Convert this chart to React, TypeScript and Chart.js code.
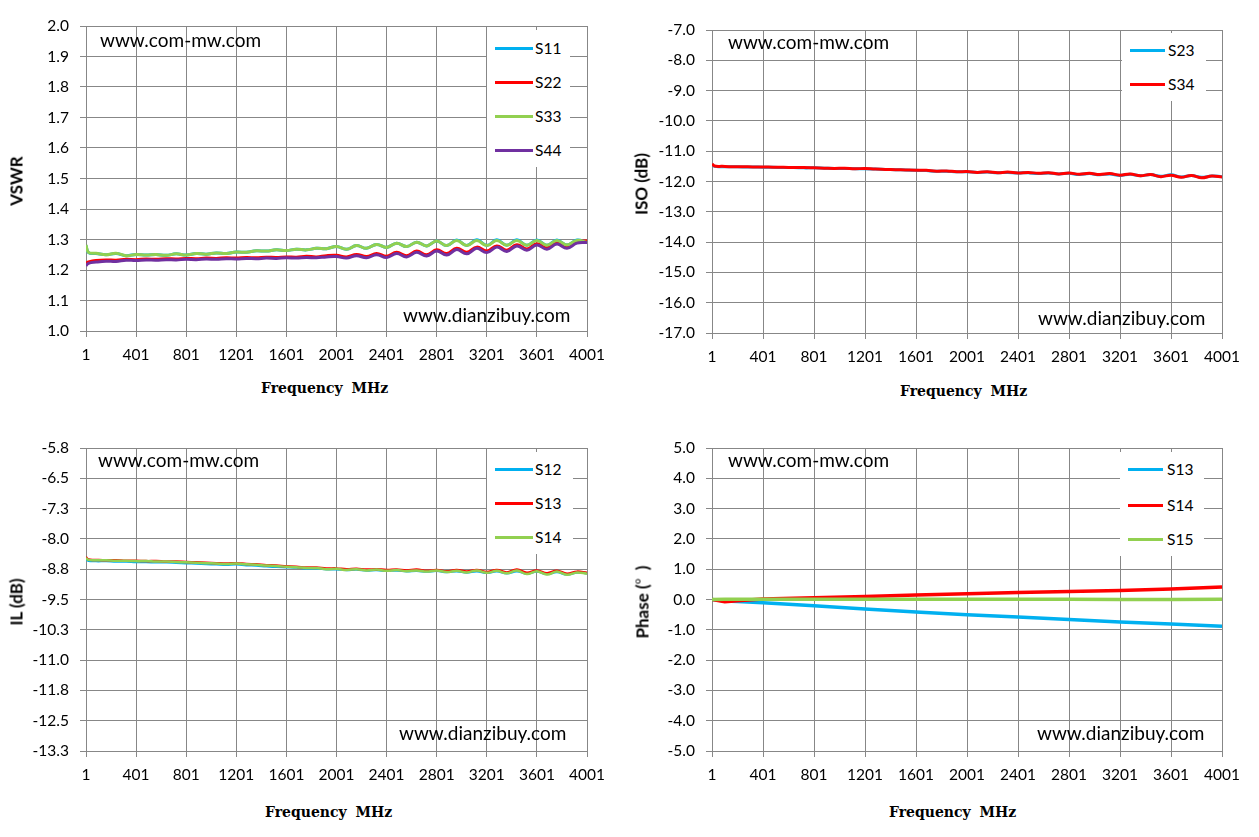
import { useEffect, useRef } from "react"
import { Chart, registerables } from "chart.js"

Chart.register(...registerables)

// x axis (MHz) shared by all four panels
const freqTicks = [1, 401, 801, 1201, 1601, 2001, 2401, 2801, 3201, 3601, 4001]

const freqMHz = [
  1, 21, 81, 161, 241, 321, 401, 481, 561, 641, 721, 801, 881, 961, 1041, 1121, 1201, 1281, 1361, 1441, 1521, 1601,
  1681, 1761, 1841, 1921, 2001, 2081, 2161, 2241, 2321, 2401, 2481, 2561, 2641, 2721, 2801, 2881, 2961, 3041, 3121,
  3201, 3281, 3361, 3441, 3521, 3601, 3681, 3761, 3841, 3921, 4001,
]

// VSWR
const vswrTicks = [1.0, 1.1, 1.2, 1.3, 1.4, 1.5, 1.6, 1.7, 1.8, 1.9, 2.0]
const s11 = [
  1.28, 1.257, 1.254, 1.25, 1.254, 1.247, 1.251, 1.249, 1.251, 1.248, 1.253, 1.249, 1.254, 1.252, 1.256, 1.254, 1.259,
  1.258, 1.263, 1.262, 1.266, 1.264, 1.268, 1.266, 1.271, 1.27, 1.277, 1.268, 1.28, 1.271, 1.284, 1.274, 1.288, 1.277,
  1.291, 1.279, 1.295, 1.28, 1.298, 1.28, 1.299, 1.28, 1.299, 1.281, 1.299, 1.281, 1.298, 1.281, 1.298, 1.282, 1.298,
  1.291,
]
const s22 = [
  1.222, 1.226, 1.231, 1.233, 1.232, 1.235, 1.234, 1.236, 1.235, 1.237, 1.236, 1.238, 1.237, 1.239, 1.238, 1.24, 1.239,
  1.241, 1.24, 1.242, 1.241, 1.243, 1.242, 1.245, 1.243, 1.247, 1.248, 1.243, 1.251, 1.244, 1.254, 1.245, 1.258, 1.247,
  1.262, 1.25, 1.266, 1.254, 1.271, 1.258, 1.275, 1.262, 1.279, 1.265, 1.283, 1.269, 1.286, 1.272, 1.289, 1.275, 1.292,
  1.296,
]
const s33 = [
  1.282, 1.258, 1.255, 1.25, 1.255, 1.247, 1.251, 1.249, 1.251, 1.248, 1.253, 1.249, 1.254, 1.252, 1.256, 1.254, 1.259,
  1.258, 1.263, 1.262, 1.266, 1.264, 1.268, 1.266, 1.271, 1.27, 1.277, 1.268, 1.28, 1.271, 1.284, 1.274, 1.288, 1.277,
  1.291, 1.279, 1.295, 1.28, 1.297, 1.28, 1.297, 1.28, 1.297, 1.281, 1.297, 1.281, 1.297, 1.281, 1.297, 1.282, 1.297,
  1.29,
]
const s44 = [
  1.214, 1.222, 1.226, 1.229, 1.228, 1.232, 1.231, 1.233, 1.232, 1.234, 1.233, 1.235, 1.234, 1.236, 1.235, 1.237, 1.236,
  1.238, 1.237, 1.239, 1.238, 1.24, 1.239, 1.241, 1.24, 1.243, 1.244, 1.239, 1.247, 1.24, 1.25, 1.241, 1.254, 1.243,
  1.258, 1.246, 1.262, 1.249, 1.267, 1.253, 1.271, 1.257, 1.275, 1.261, 1.279, 1.265, 1.282, 1.268, 1.285, 1.271, 1.288,
  1.29,
]

// Isolation (dB)
const isoTicks = [-17, -16, -15, -14, -13, -12, -11, -10, -9, -8, -7]
const s23 = [
  -11.44, -11.5, -11.51, -11.51, -11.52, -11.52, -11.53, -11.53, -11.54, -11.54, -11.55, -11.55, -11.56, -11.57, -11.57,
  -11.58, -11.58, -11.59, -11.6, -11.61, -11.62, -11.63, -11.64, -11.66, -11.66, -11.68, -11.68, -11.7, -11.69, -11.71,
  -11.7, -11.72, -11.71, -11.74, -11.72, -11.75, -11.73, -11.77, -11.74, -11.78, -11.75, -11.8, -11.76, -11.81, -11.77,
  -11.83, -11.78, -11.85, -11.8, -11.86, -11.82, -11.84,
]
const s34 = [
  -11.42, -11.49, -11.5, -11.51, -11.51, -11.52, -11.52, -11.53, -11.53, -11.54, -11.54, -11.55, -11.56, -11.57, -11.56,
  -11.58, -11.57, -11.59, -11.6, -11.61, -11.62, -11.63, -11.63, -11.66, -11.65, -11.68, -11.67, -11.7, -11.68, -11.71,
  -11.69, -11.72, -11.7, -11.73, -11.71, -11.75, -11.72, -11.76, -11.73, -11.77, -11.74, -11.79, -11.75, -11.81, -11.77,
  -11.84, -11.79, -11.86, -11.8, -11.88, -11.82, -11.85,
]

// Insertion loss (dB)
const ilTicks = [-13.25, -12.5, -11.75, -11, -10.25, -9.5, -8.75, -8, -7.25, -6.5, -5.75]
const s12 = [
  -8.5, -8.54, -8.55, -8.55, -8.56, -8.56, -8.57, -8.57, -8.58, -8.58, -8.59, -8.6, -8.61, -8.62, -8.63, -8.64, -8.63,
  -8.65, -8.66, -8.68, -8.69, -8.7, -8.71, -8.73, -8.73, -8.75, -8.75, -8.77, -8.76, -8.78, -8.77, -8.79, -8.78, -8.8,
  -8.79, -8.81, -8.79, -8.82, -8.8, -8.83, -8.8, -8.84, -8.8, -8.85, -8.8, -8.86, -8.81, -8.87, -8.82, -8.88, -8.83,
  -8.85,
]
const s13 = [
  -8.45, -8.51, -8.52, -8.53, -8.53, -8.54, -8.54, -8.55, -8.55, -8.56, -8.56, -8.57, -8.58, -8.59, -8.6, -8.61, -8.6,
  -8.62, -8.63, -8.65, -8.66, -8.68, -8.69, -8.71, -8.71, -8.73, -8.73, -8.75, -8.74, -8.76, -8.75, -8.77, -8.76, -8.78,
  -8.76, -8.79, -8.77, -8.8, -8.77, -8.81, -8.77, -8.82, -8.77, -8.83, -8.76, -8.84, -8.78, -8.85, -8.79, -8.86, -8.81,
  -8.84,
]
const s14 = [
  -8.47, -8.52, -8.53, -8.53, -8.54, -8.54, -8.55, -8.55, -8.56, -8.56, -8.57, -8.58, -8.59, -8.6, -8.61, -8.62, -8.61,
  -8.63, -8.64, -8.66, -8.67, -8.69, -8.7, -8.72, -8.72, -8.75, -8.74, -8.77, -8.75, -8.78, -8.76, -8.79, -8.77, -8.8,
  -8.78, -8.81, -8.78, -8.82, -8.79, -8.83, -8.78, -8.84, -8.79, -8.85, -8.78, -8.87, -8.8, -8.88, -8.81, -8.89, -8.83,
  -8.86,
]

// Phase (deg)
const phaseTicks = [-5, -4, -3, -2, -1, 0, 1, 2, 3, 4, 5]
const phaseFreq = [1, 101, 201, 401, 801, 1201, 1601, 2001, 2401, 2801, 3201, 3601, 4001]
const s13Phase = [0.0, -0.05, -0.07, -0.11, -0.21, -0.31, -0.41, -0.5, -0.58, -0.66, -0.74, -0.81, -0.88]
const s14Phase = [0.0, -0.07, -0.04, 0.02, 0.06, 0.1, 0.15, 0.19, 0.23, 0.26, 0.3, 0.35, 0.41]
const s15Phase = [0.0, 0.01, 0.01, 0.01, 0.01, 0.01, 0.01, 0.01, 0.01, 0.01, 0.0, 0.0, 0.01]

const CYAN = "#00b0f0"
const RED = "#ff0000"
const GREEN = "#92d050"
const PURPLE = "#7030a0"
const GRID = "#878787"
const FONT = "Lato, 'Open Sans', sans-serif"

type Series = { label: string; color: string; values: number[] }

type PanelProps = {
  left: number
  top: number
  width: number
  height: number
  area: { l: number; t: number; r: number; b: number }
  xValues: number[]
  yTicks: number[]
  series: Series[]
  lineWidth: number
  tension: number
  yTitle: React.ReactNode
  xTitle: [number, number]
  legend: { box: [number, number, number, number]; rows: number[]; lineX: [number, number]; textX: number }
  marks: { top: [number, number]; bottom: [number, number] }
}

function Panel(p: PanelProps) {
  const canvasRef = useRef<HTMLCanvasElement>(null)
  const chartInstance = useRef<Chart | null>(null)

  useEffect(() => {
    if (!canvasRef.current) return
    if (chartInstance.current) chartInstance.current.destroy()
    const ctx = canvasRef.current.getContext("2d")
    if (!ctx) return

    const n = p.series.length
    chartInstance.current = new Chart(ctx, {
      type: "line",
      data: {
        datasets: p.series.map((s, i) => ({
          label: s.label,
          data: p.xValues.map((x, j) => ({ x, y: s.values[j] })),
          borderColor: s.color,
          backgroundColor: s.color,
          borderWidth: p.lineWidth,
          pointRadius: 0,
          tension: p.tension,
          fill: false,
          // later series drawn on top, like the spreadsheet
          order: n - i,
        })),
      },
      options: {
        animation: false,
        responsive: false,
        maintainAspectRatio: false,
        layout: { padding: { top: p.area.t, right: p.width - p.area.r, left: 0, bottom: 0 } },
        plugins: { legend: { display: false }, tooltip: { enabled: false } },
        scales: {
          x: {
            type: "linear",
            min: 1,
            max: 4001,
            afterBuildTicks: (scale) => {
              scale.ticks = freqTicks.map((v) => ({ value: v }))
            },
            afterFit: (scale) => {
              scale.height = p.height - p.area.b
            },
            grid: { color: GRID, tickLength: 6 },
            border: { color: GRID },
            ticks: {
              color: "#000",
              font: { family: FONT, size: 15.5 },
              padding: 9,
              maxRotation: 0,
              autoSkip: false,
              callback: (v) => String(v),
            },
          },
          y: {
            min: p.yTicks[0],
            max: p.yTicks[p.yTicks.length - 1],
            afterBuildTicks: (scale) => {
              scale.ticks = p.yTicks.map((v) => ({ value: v }))
            },
            afterFit: (scale) => {
              scale.width = p.area.l
            },
            grid: { color: GRID, tickLength: 6 },
            border: { color: GRID },
            ticks: {
              color: "#000",
              font: { family: FONT, size: 15.5 },
              padding: 11,
              autoSkip: false,
              callback: (v) => Number(v).toFixed(1),
            },
          },
        },
      },
    })

    return () => {
      if (chartInstance.current) {
        chartInstance.current.destroy()
        chartInstance.current = null
      }
    }
  }, [])

  const [bx, by, bw, bh] = p.legend.box
  const cy = p.top + (p.area.t + p.area.b) / 2 + 2

  return (
    <>
      <canvas
        ref={canvasRef}
        width={p.width}
        height={p.height}
        style={{ position: "absolute", left: p.left, top: p.top, width: p.width, height: p.height }}
      />
      {/* legend box */}
      <div style={{ position: "absolute", left: bx, top: by, width: bw, height: bh, background: "#fff" }} />
      {p.series.map((s, i) => (
        <div
          key={s.label}
          style={{
            position: "absolute",
            left: p.legend.lineX[0],
            top: p.legend.rows[i] - 10,
            height: 20,
            display: "flex",
            alignItems: "center",
            fontFamily: FONT,
            fontSize: 15.5,
            whiteSpace: "nowrap",
          }}
        >
          <span
            style={{
              display: "inline-block",
              width: p.legend.lineX[1] - p.legend.lineX[0],
              height: 3,
              background: s.color,
              marginRight: p.legend.textX - p.legend.lineX[1],
            }}
          />
          <span style={{ lineHeight: "20px" }}>{s.label}</span>
        </div>
      ))}
      {/* watermarks */}
      <div style={{ position: "absolute", left: p.marks.top[0], top: p.marks.top[1] - 17, fontFamily: FONT, fontSize: 19, lineHeight: "19px", whiteSpace: "nowrap" }}>
        www.com-mw.com
      </div>
      <div style={{ position: "absolute", left: p.marks.bottom[0], top: p.marks.bottom[1] - 17, fontFamily: FONT, fontSize: 19, lineHeight: "19px", whiteSpace: "nowrap" }}>
        www.dianzibuy.com
      </div>
      {/* y title */}
      <div
        style={{
          position: "absolute",
          left: p.left + 16,
          top: cy,
          transform: "translate(-50%, -50%) rotate(-90deg)",
          fontFamily: FONT,
          fontWeight: 700,
          fontSize: 17,
          whiteSpace: "nowrap",
        }}
      >
        {p.yTitle}
      </div>
      {/* x title */}
      <div
        style={{
          position: "absolute",
          left: p.xTitle[0],
          top: p.xTitle[1] - 9,
          lineHeight: "18px",
          fontFamily: "'DejaVu Serif', serif",
          fontWeight: 700,
          fontSize: 14,
          wordSpacing: 4,
          whiteSpace: "nowrap",
        }}
      >
        Frequency MHz
      </div>
    </>
  )
}

export default function App() {
  return (
    <div style={{ position: "absolute", left: 0, top: 0, width: 1259, height: 837, background: "#fff", overflow: "hidden" }}>
      <Panel
        left={0}
        top={0}
        width={625}
        height={375}
        area={{ l: 86, t: 26, r: 587, b: 331 }}
        xValues={freqMHz}
        yTicks={vswrTicks}
        series={[
          { label: "S11", color: CYAN, values: s11 },
          { label: "S22", color: RED, values: s22 },
          { label: "S33", color: GREEN, values: s33 },
          { label: "S44", color: PURPLE, values: s44 },
        ]}
        lineWidth={3}
        tension={0.4}
        yTitle="VSWR"
        xTitle={[261, 388]}
        legend={{ box: [487, 30, 83, 137], rows: [48, 82, 116, 150], lineX: [495, 533], textX: 535 }}
        marks={{ top: [100, 46.7], bottom: [403, 321.7] }}
      />
      <Panel
        left={625}
        top={0}
        width={634}
        height={375}
        area={{ l: 87, t: 30, r: 597, b: 333 }}
        xValues={freqMHz}
        yTicks={isoTicks}
        series={[
          { label: "S23", color: CYAN, values: s23 },
          { label: "S34", color: RED, values: s34 },
        ]}
        lineWidth={3}
        tension={0.4}
        yTitle="ISO (dB)"
        xTitle={[900, 391]}
        legend={{ box: [1122, 33, 84, 68], rows: [50, 84], lineX: [1130, 1165], textX: 1168 }}
        marks={{ top: [728, 48.7], bottom: [1038, 324.5] }}
      />
      <Panel
        left={0}
        top={420}
        width={625}
        height={380}
        area={{ l: 86, t: 28, r: 587, b: 331 }}
        xValues={freqMHz}
        yTicks={ilTicks}
        series={[
          { label: "S12", color: CYAN, values: s12 },
          { label: "S13", color: RED, values: s13 },
          { label: "S14", color: GREEN, values: s14 },
        ]}
        lineWidth={2.5}
        tension={0.4}
        yTitle="IL (dB)"
        xTitle={[265, 812]}
        legend={{ box: [487, 452, 86, 102], rows: [469, 503, 537], lineX: [495, 533], textX: 535 }}
        marks={{ top: [98, 466.7], bottom: [399, 739.7] }}
      />
      <Panel
        left={625}
        top={420}
        width={634}
        height={380}
        area={{ l: 87, t: 28, r: 597, b: 331 }}
        xValues={phaseFreq}
        yTicks={phaseTicks}
        series={[
          { label: "S13", color: CYAN, values: s13Phase },
          { label: "S14", color: RED, values: s14Phase },
          { label: "S15", color: GREEN, values: s15Phase },
        ]}
        lineWidth={3.5}
        tension={0}
        yTitle={
          <>
            Phase (<span style={{ fontFamily: "'Noto Sans CJK SC'", fontWeight: 400 }}>°</span>
            <span style={{ display: "inline-block", width: 8 }} />)
          </>
        }
        xTitle={[889, 812]}
        legend={{ box: [1120, 452, 84, 104], rows: [469, 505, 539], lineX: [1128, 1163], textX: 1167 }}
        marks={{ top: [728, 466.7], bottom: [1037, 739.7] }}
      />
    </div>
  )
}
